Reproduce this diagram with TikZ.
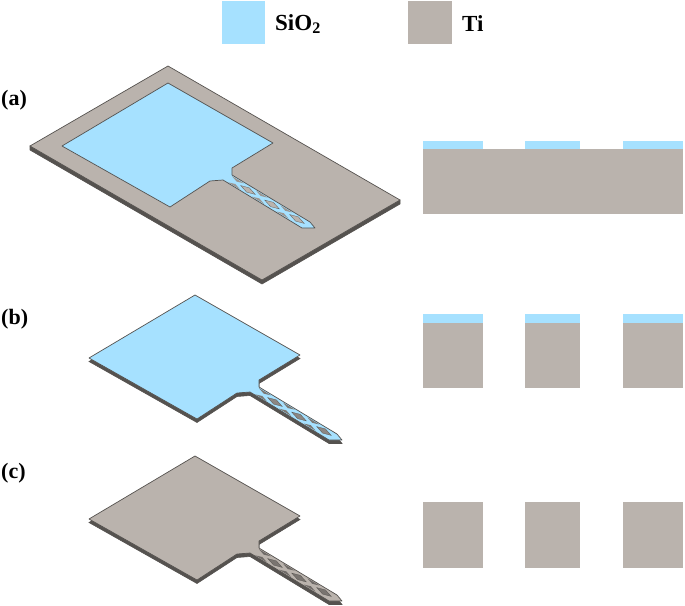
\documentclass[tikz,border=0pt]{standalone}
\usepackage{fontspec}
\setmainfont{Liberation Serif}
\usepackage{xcolor}
\usetikzlibrary{positioning}
\definecolor{SiOBlue}{HTML}{A6E1FF}
\definecolor{TiGrey}{HTML}{BAB3AD}
\definecolor{EdgeDark}{HTML}{55524F}
\tikzset{
    % Flat layers of the cross-sections and legend
    sioblock/.style={
        fill=SiOBlue,
        draw=none
    },
    tiblock/.style={
        fill=TiGrey,
        draw=none
    },
    % Side wall and outline of the 3D parts
    sidewall/.style={
        fill=EdgeDark,
        draw=EdgeDark,
        line width=0.6pt
    },
    topface/.style={
        draw=EdgeDark,
        line width=0.7pt,
        line join=round
    },
    % Text styles
    panellabel/.style={
        anchor=west,
        inner sep=0pt,
        font=\fontsize{22}{24}\selectfont\bfseries
    },
    legendlabel/.style={
        anchor=west,
        inner sep=0pt,
        font=\fontsize{23}{24}\selectfont\bfseries
    }
}
% Outline of the square pad with its shank, notch corner at the origin
\newcommand{\probepath}{(-170,-22) -- (-64,-85) -- (41,-25) -- (0,0) -- (0,7) -- (78,54) -- (83,60) -- (70,60) -- (-9,12) -- (-22,13) -- (-62,39) -- cycle}
% Openings of the lattice in the shank: #1 is the colour seen through them
\newcommand{\probeholes}[1]{
    \foreach \cx/\cy in {16/22, 40/36.5, 65/51} {
        \filldraw[fill=#1,draw=EdgeDark,line width=0.25pt] (\cx-7.3,\cy-4.4) -- (\cx+1.3,\cy-2.2) -- (\cx+7.3,\cy+4.4) -- (\cx-1.3,\cy+2.2) -- cycle;
    }
    \foreach \cx/\cy in {4/14.8, 28/29.2, 52.5/44} {
        \fill[#1!70!EdgeDark] (\cx+0.7,\cy-1.2) -- (\cx+1.9-6,\cy-3.1-3.6) -- (\cx+1.9+6,\cy-3.1+3.6) -- cycle;
        \fill[#1!70!EdgeDark] (\cx-0.7,\cy+1.2) -- (\cx-1.9+6,\cy+3.1+3.6) -- (\cx-1.9-6,\cy+3.1-3.6) -- cycle;
    }
}
\begin{document}
\begin{tikzpicture}[x=1pt,y=-1pt]
    \useasboundingbox (0,0) rectangle (685,605);

    % Legend
    \fill[sioblock] (222,1) rectangle (265,44);
    \fill[tiblock] (408,1) rectangle (452,44);
    \node[legendlabel] (siolabel) at (275,24) {SiO\textsubscript{2}};
    \node[legendlabel] (tilabel) at (462,24) {Ti};

    % Panel labels
    \node[panellabel] (la) at (1,100) {(a)};
    \node[panellabel] (lb) at (1,319) {(b)};
    \node[panellabel] (lc) at (1,473) {(c)};

    % (a) Ti plate with patterned oxide
    \fill[sidewall] (30,150) -- (262,284) -- (400,204) -- (400,200) -- (262,280) -- (30,146) -- cycle;
    \draw[topface,fill=TiGrey] (168,66) -- (400,200) -- (262,280) -- (30,146) -- cycle;
    \begin{scope}[shift={(232,168)}]
        \draw[topface,fill=SiOBlue] \probepath;
        \probeholes{TiGrey}
    \end{scope}

    % (b) Probe with oxide on top
    \begin{scope}[shift={(259,380)}]
        \begin{scope}[yshift=-3.5pt]
            \draw[sidewall] \probepath;
        \end{scope}
        \draw[topface,fill=SiOBlue] \probepath;
        \probeholes{TiGrey!75!black}
    \end{scope}

    % (c) Bare Ti probe
    \begin{scope}[shift={(259,541)}]
        \begin{scope}[yshift=-3.5pt]
            \draw[sidewall] \probepath;
        \end{scope}
        \draw[topface,fill=TiGrey] \probepath;
        \probeholes{TiGrey!65!black}
    \end{scope}

    % Cross-sections
    \fill[tiblock] (423,149) rectangle (683,214);
    \foreach \xa/\xb in {423/483, 525/580, 623/683} {
        \fill[sioblock] (\xa,141) rectangle (\xb,149);
        \fill[sioblock] (\xa,314) rectangle (\xb,323);
        \fill[tiblock] (\xa,323) rectangle (\xb,388);
        \fill[tiblock] (\xa,502) rectangle (\xb,568);
    }
\end{tikzpicture}
\end{document}
